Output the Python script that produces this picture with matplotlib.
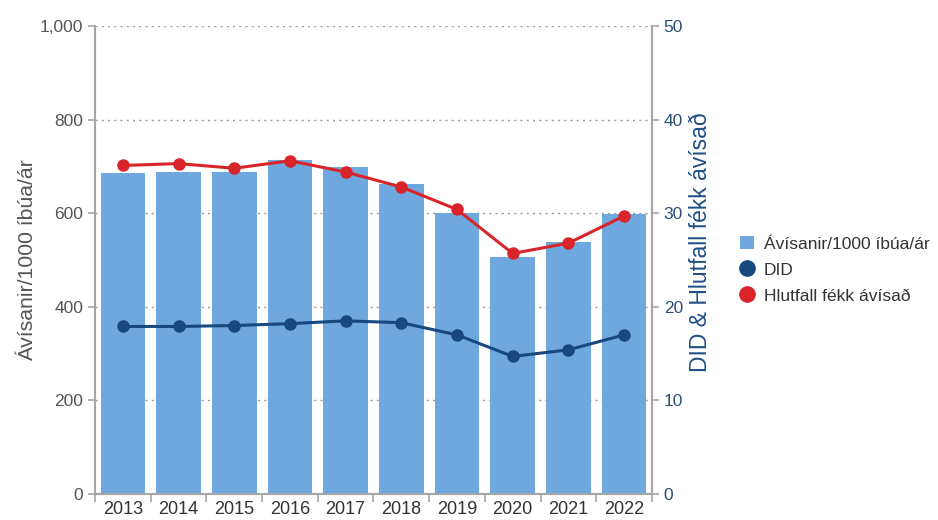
import matplotlib
matplotlib.use('Agg')
import matplotlib.pyplot as plt
from matplotlib.lines import Line2D
from matplotlib.patches import Patch
import numpy as np

plt.rcParams['font.family'] = ['Liberation Sans', 'DejaVu Sans']

years = ['2013', '2014', '2015', '2016', '2017', '2018', '2019', '2020', '2021', '2022']
avisanir = [686, 688, 688, 714, 698, 662, 600, 507, 539, 598]
did = [17.9, 17.9, 18.0, 18.2, 18.5, 18.3, 17.0, 14.7, 15.4, 17.0]
hlutfall = [35.1, 35.3, 34.8, 35.6, 34.4, 32.8, 30.4, 25.7, 26.8, 29.7]

bar_color = '#6fa8de'
did_color = '#17487f'
red_color = '#d9252a'
grey = '#555555'
spine_grey = '#a6a6a6'

fig = plt.figure(figsize=(9.38, 5.2), dpi=100)
ax = fig.add_axes([0.1013, 0.05, 0.5937, 0.90])
ax2 = ax.twinx()

x = np.arange(len(years))
ax.bar(x, avisanir, width=0.8, color=bar_color, zorder=2)
ax.set_xlim(-0.5, len(years) - 0.5)
ax.set_ylim(0, 1000)
ax.set_yticks(range(0, 1001, 200))
ax.set_yticklabels(['0', '200', '400', '600', '800', '1,000'])
ax.yaxis.grid(True, linestyle=(0, (1.5, 3)), color='#9a9a9a', linewidth=1, zorder=0)
ax.set_axisbelow(True)

ax.set_xticks(x)
ax.set_xticklabels(years)
ax.set_xticks(np.arange(-0.5, len(years)), minor=True)
ax.tick_params(axis='x', which='major', length=0, labelsize=13, colors='#333333', pad=5)
ax.tick_params(axis='x', which='minor', length=6, color=spine_grey, width=1.2)
ax.tick_params(axis='y', length=5, color=spine_grey, labelsize=12.5, labelcolor=grey, width=1.2)
ax.set_ylabel('Ávísanir/1000 íbúa/ár', fontsize=15.3, color=grey, labelpad=2)

ax2.plot(x, did, color=did_color, linewidth=2.2, marker='o', markersize=8, zorder=3)
ax2.plot(x, hlutfall, color=red_color, linewidth=2.2, marker='o', markersize=8, zorder=3)
ax2.set_ylim(0, 50)
ax2.set_yticks(range(0, 51, 10))
ax2.tick_params(axis='y', length=5, color=spine_grey, labelsize=12.5, labelcolor='#2b4f7a', width=1.2)
ax2.set_ylabel('DID & Hlutfall fékk ávísað', fontsize=16.5, color='#1f4f86', labelpad=4)
ax2.yaxis.label.set_y(0.538)

for a in (ax, ax2):
    a.spines['top'].set_visible(False)
    for s in ('left', 'right', 'bottom'):
        a.spines[s].set_color(spine_grey)
        a.spines[s].set_linewidth(1.5)

handles = [
    Patch(facecolor=bar_color, edgecolor='none', label='Ávísanir/1000 íbúa/ár'),
    Line2D([], [], color=did_color, marker='o', linestyle='none', markersize=11, label='DID'),
    Line2D([], [], color=red_color, marker='o', linestyle='none', markersize=11, label='Hlutfall fékk ávísað'),
]
leg = fig.legend(handles=handles, loc='center left', bbox_to_anchor=(0.772, 0.481),
                 frameon=False, fontsize=12.5, handlelength=0.8, handleheight=0.8,
                 handletextpad=0.6, labelspacing=0.6)
for t in leg.get_texts():
    t.set_color('#333333')

fig.savefig('out.png', dpi=100)
